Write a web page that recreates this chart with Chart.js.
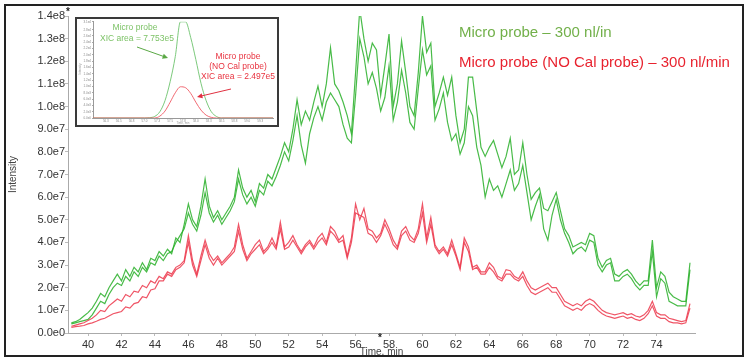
<!DOCTYPE html>
<html>
<head>
<meta charset="utf-8">
<script src="https://cdn.jsdelivr.net/npm/chart.js@4.4.0/dist/chart.umd.min.js"></script>
<style>
  html, body { margin: 0; padding: 0; background: #fff; }
  #wrap { position: relative; width: 750px; height: 362px; }
  #main { position: absolute; left: 0; top: 0; }
  #inset { position: absolute; left: 75px; top: 17px; width: 204px; height: 110px;
           box-sizing: border-box; border: 2px solid #3a3a3a; background: #fff; }
  #insetCanvas { position: absolute; left: 0; top: 0; }
</style>
</head>
<body>
<div id="wrap">
  <canvas id="main" width="750" height="362"></canvas>
  <div id="inset"><canvas id="insetCanvas" width="200" height="106"></canvas></div>
</div>
<script>
// sampling grid of the chromatogram, minutes (every 0.25 min)
const times = [];
for (let t = 39; t <= 76.001; t += 0.25) times.push(+t.toFixed(2));

// intensities in units of 1e7, one row per minute
const microA = [
  0.45, 0.5, 0.6, 0.75,
  0.9, 1.1, 1.4, 1.75,
  1.6, 2.0, 2.3, 2.6,
  2.3, 2.8, 2.5, 2.9,
  2.7, 3.1, 2.8, 3.3,
  3.2, 3.6, 3.4, 3.7,
  3.5, 4.2, 4.0, 4.8,
  5.7, 5.0, 4.7, 5.6,
  6.8, 5.6, 5.1, 5.4,
  5.0, 5.3, 5.6, 6.0,
  7.2, 6.4, 6.0, 6.3,
  5.8, 6.6, 6.4, 7.0,
  6.8, 7.3, 7.8, 8.4,
  8.0, 9.0, 10.3, 9.2,
  9.8, 9.4, 10.2, 10.9,
  10.0, 11.0, 12.6, 11.0,
  10.7, 10.2, 9.6, 8.8,
  11.5, 14.3, 13.0, 12.0,
  12.8, 12.5, 10.5, 11.8,
  13.2, 10.0, 11.0, 12.9,
  11.5, 10.0, 9.6, 11.5,
  14.0, 12.4, 12.8, 10.0,
  10.6, 11.3, 10.5, 11.3,
  9.6, 8.4, 9.0, 11.3,
  11.3, 9.8, 8.2, 7.8,
  8.2, 8.5, 7.9, 7.3,
  7.8, 8.6, 7.0, 7.2,
  8.4, 7.0, 5.9, 6.2,
  6.4, 5.5, 5.4, 5.8,
  6.2, 5.4, 4.6, 4.3,
  3.8, 3.9, 4.0, 3.9,
  4.4, 4.3, 3.3, 2.9,
  3.2, 3.3, 2.6, 2.5,
  2.7, 2.8, 2.6, 2.3,
  2.1, 2.3, 2.3, 4.1,
  2.0, 2.7, 2.5, 1.8,
  1.6, 1.5, 1.4, 1.4,
  3.1
];
const microB = [
  0.4, 0.45, 0.5, 0.55,
  0.6, 0.8, 1.1, 1.4,
  1.3, 1.7, 2.0, 2.2,
  2.1, 2.5, 2.3, 2.7,
  2.5, 2.9, 2.7, 3.1,
  3.0, 3.4, 3.2, 3.5,
  3.6, 4.0, 4.3, 4.6,
  5.3, 4.8, 4.5, 5.2,
  6.2, 5.3, 4.9, 5.2,
  4.8, 5.1, 5.4, 5.8,
  6.8, 6.1, 5.7, 6.0,
  5.6, 6.3, 6.1, 6.7,
  6.5, 6.9, 7.4, 8.0,
  7.6, 8.5, 9.6, 8.3,
  7.5, 8.8, 9.5, 10.0,
  9.4, 10.2, 10.6, 10.3,
  10.0, 9.2, 8.6, 8.4,
  10.5, 13.0, 12.2, 11.0,
  11.5, 10.8, 9.8, 10.4,
  11.8, 9.4, 10.2, 11.6,
  10.6, 9.3, 9.0, 10.8,
  12.5, 11.4, 11.8, 9.4,
  9.9, 10.6, 9.3, 8.5,
  8.8, 7.9, 8.4, 10.0,
  9.6, 8.2, 7.4, 6.0,
  6.8, 6.3, 6.5, 6.0,
  6.6, 7.2, 6.3, 6.6,
  7.4, 6.2, 5.0, 5.6,
  6.1, 4.6, 4.1, 5.2,
  5.9, 5.0, 4.4, 4.0,
  3.5, 3.7, 3.8, 3.6,
  4.1, 4.0, 3.0, 2.7,
  3.0, 3.1, 2.3, 2.3,
  2.5, 2.6, 2.4, 2.1,
  1.9, 2.1, 2.1, 3.6,
  1.6, 2.4, 2.2, 1.4,
  1.3, 1.2, 1.2, 1.2,
  2.8
];
const noCalA = [
  0.3, 0.35, 0.4, 0.45,
  0.55, 0.65, 0.8, 1.0,
  0.95, 1.2, 1.35, 1.5,
  1.4, 1.7, 1.6, 1.85,
  1.8, 2.1, 2.0, 2.3,
  2.2, 2.5, 2.4, 2.7,
  2.6, 2.9, 3.0, 3.2,
  4.3, 3.2, 2.6, 3.4,
  4.1, 3.5, 3.2, 3.4,
  3.1, 3.3, 3.5, 3.8,
  4.8, 3.9, 3.3, 3.6,
  3.9, 4.1, 3.6, 3.8,
  4.2, 3.8, 4.9, 3.8,
  4.0, 4.3, 3.9, 3.6,
  3.9, 4.1, 3.8, 4.2,
  4.4, 4.0, 4.7, 4.5,
  4.1, 4.3, 3.4, 4.2,
  5.7, 5.0, 5.5, 4.6,
  4.5, 4.2, 4.4, 5.0,
  4.6, 4.1, 3.8, 4.5,
  4.7, 4.3, 4.1, 4.6,
  5.7, 4.2, 5.1, 3.9,
  3.6, 3.8, 3.5, 4.1,
  3.5, 2.9, 4.2, 3.8,
  2.9, 3.0, 2.7, 2.7,
  3.1, 2.9, 2.5, 2.4,
  2.8, 2.75, 2.5, 2.4,
  2.7, 2.3, 2.0, 1.9,
  2.0, 2.1, 2.2, 2.0,
  2.0, 1.7, 1.4, 1.3,
  1.2, 1.3, 1.2, 1.4,
  1.5, 1.4, 1.2, 1.0,
  0.9, 0.85, 0.8, 0.85,
  0.9, 0.8, 0.85, 0.75,
  0.7, 0.8, 1.0, 1.4,
  0.9, 0.8, 0.8, 0.65,
  0.6, 0.55, 0.5, 0.55,
  1.3
];
const noCalB = [
  0.25, 0.28, 0.3, 0.33,
  0.4, 0.45, 0.52, 0.6,
  0.65, 0.75, 0.85, 0.9,
  0.95, 1.15, 1.1, 1.3,
  1.35, 1.6, 1.55, 1.9,
  1.95, 2.3, 2.3, 2.6,
  2.5, 2.8, 2.9, 3.1,
  4.0, 3.0, 2.5, 3.2,
  3.9, 3.3, 3.0, 3.3,
  3.0, 3.2, 3.4, 3.6,
  4.5, 3.7, 3.2, 3.5,
  3.7, 3.9, 3.5, 3.7,
  4.0, 3.7, 4.6, 3.7,
  3.8, 4.1, 3.8, 3.5,
  3.8, 4.0, 3.7, 4.0,
  4.2, 3.9, 4.5, 4.3,
  4.0, 4.1, 3.3, 4.0,
  5.3, 5.2, 5.1, 4.4,
  4.3, 4.0, 4.3, 4.8,
  4.4, 3.9, 3.7, 4.3,
  4.5, 4.1, 4.0, 4.4,
  5.3, 4.0, 4.8, 3.8,
  3.5, 3.7, 3.4, 3.9,
  3.4, 2.8, 4.0, 3.6,
  2.8, 2.9, 2.6, 2.6,
  2.9, 2.7, 2.4, 2.3,
  2.6, 2.6, 2.4, 2.3,
  2.5, 2.1, 1.8, 1.7,
  1.8, 1.9, 2.0, 1.8,
  1.8, 1.5, 1.2, 1.1,
  1.0, 1.1, 1.0, 1.2,
  1.3, 1.2, 1.0, 0.85,
  0.75, 0.7, 0.65, 0.7,
  0.75, 0.65, 0.7, 0.6,
  0.55, 0.65, 0.85, 1.2,
  0.75, 0.65, 0.65, 0.5,
  0.45, 0.45, 0.4, 0.45,
  1.1
];

const xTicks = [40, 42, 44, 46, 48, 50, 52, 54, 56, 58, 60, 62, 64, 66, 68, 70, 72, 74];
const legendLabels = ['Micro probe \u2013 300 nl/in', 'Micro probe (NO Cal probe) \u2013 300 nl/min'];

// inset: XIC of one peak (units of 1e3 counts)
const insetTimes = [56.0, 57.0, 57.1, 57.2, 57.3, 57.4, 57.5, 57.6, 57.7, 57.8, 57.9, 58.0, 58.1, 58.2, 58.3, 58.4, 58.5, 59.5];
const insetMicro = [0, 0, 0.1, 0.5, 2.0, 5.5, 11.5, 19.5, 30.5, 30.5, 25.5, 18.5, 11.0, 5.5, 2.0, 0.5, 0, 0];
const insetNoCal = [0, 0, 0, 0, 0.6, 2.2, 5.0, 8.0, 9.9, 9.6, 7.8, 5.0, 2.5, 0.9, 0.2, 0, 0, 0];
const insetXTicks = [56.25, 56.5, 56.75, 57.0, 57.25, 57.5, 57.75, 58.0, 58.25, 58.5, 58.75, 59.0, 59.25];

const FONT = '"Liberation Sans", Arial, sans-serif';
const GREEN = 'rgba(40, 175, 40, 0.85)';
const RED = 'rgba(236, 55, 75, 0.85)';

function pts(vals) {
  return vals.map((v, i) => ({ x: times[i], y: v * 1e7 }));
}
function line(vals, color) {
  return { data: pts(vals), borderColor: color, borderWidth: 1.2, pointRadius: 0, tension: 0, fill: false };
}

const decor = {
  id: 'decor',
  afterDraw(chart) {
    const ctx = chart.ctx;
    ctx.save();
    ctx.strokeStyle = '#222';
    ctx.lineWidth = 2;
    ctx.strokeRect(5, 5, 738, 351);
    ctx.font = '15px ' + FONT;
    ctx.textBaseline = 'middle';
    ctx.textAlign = 'left';
    ctx.fillStyle = '#72b04a';
    ctx.fillText(legendLabels[0], 459, 33);
    ctx.fillStyle = '#e8232f';
    ctx.fillText(legendLabels[1], 459, 63);
    ctx.fillStyle = '#222';
    ctx.font = 'bold 10px ' + FONT;
    ctx.fillText('*', 66, 12);
    ctx.fillText('*', 378, 338);
    ctx.restore();
  }
};

new Chart(document.getElementById('main'), {
  type: 'line',
  data: {
    datasets: [
      line(noCalB, RED),
      line(noCalA, RED),
      line(microB, GREEN),
      line(microA, GREEN)
    ]
  },
  options: {
    responsive: false,
    animation: false,
    layout: { padding: { left: 0, right: 55, top: 16, bottom: 0 } },
    plugins: { legend: { display: false }, tooltip: { enabled: false } },
    scales: {
      x: {
        type: 'linear',
        min: 38.8,
        max: 76.3,
        afterBuildTicks: (s) => { s.ticks = xTicks.map(v => ({ value: v })); },
        afterFit: (s) => { s.height = 29; },
        grid: { drawOnChartArea: false, tickLength: 3, color: '#bbb' },
        border: { color: '#aaa' },
        ticks: { font: { size: 11, family: FONT }, color: '#333', padding: 2, maxRotation: 0 },
        title: { display: true, text: 'Time, min', font: { size: 10, family: FONT }, color: '#444', padding: { top: 0, bottom: 4 } }
      },
      y: {
        min: 0,
        max: 1.4e8,
        afterFit: (s) => { s.width = 68; },
        grid: { drawOnChartArea: false, tickLength: 3, color: '#bbb' },
        border: { color: '#aaa' },
        ticks: {
          stepSize: 1e7,
          font: { size: 11, family: FONT },
          color: '#333',
          padding: 0,
          callback: (v) => v.toExponential(1).replace('e+', 'e')
        },
        title: { display: true, text: 'Intensity', font: { size: 10, family: FONT }, color: '#444', padding: { top: 7, bottom: 0 } }
      }
    }
  },
  plugins: [decor]
});

// inset annotations and arrows
function arrow(ctx, x1, y1, x2, y2, color) {
  const a = Math.atan2(y2 - y1, x2 - x1);
  ctx.strokeStyle = color;
  ctx.fillStyle = color;
  ctx.lineWidth = 1;
  ctx.beginPath();
  ctx.moveTo(x1, y1);
  ctx.lineTo(x2 - 4 * Math.cos(a), y2 - 4 * Math.sin(a));
  ctx.stroke();
  ctx.beginPath();
  ctx.moveTo(x2, y2);
  ctx.lineTo(x2 - 6 * Math.cos(a - 0.45), y2 - 6 * Math.sin(a - 0.45));
  ctx.lineTo(x2 - 6 * Math.cos(a + 0.45), y2 - 6 * Math.sin(a + 0.45));
  ctx.closePath();
  ctx.fill();
}

const insetNotes = {
  id: 'insetNotes',
  afterDraw(chart) {
    const ctx = chart.ctx;
    ctx.save();
    ctx.textAlign = 'center';
    ctx.textBaseline = 'middle';
    ctx.font = '8.5px ' + FONT;
    ctx.fillStyle = '#7cc266';
    ctx.fillText('Micro probe', 58, 9);
    ctx.fillText('XIC area = 7.753e5', 60, 20);
    ctx.fillStyle = '#e8323f';
    ctx.fillText('Micro probe', 161, 38);
    ctx.fillText('(NO Cal probe)', 161, 48);
    ctx.fillText('XIC area = 2.497e5', 161, 58);
    arrow(ctx, 60, 28, 91, 39, '#5aa845');
    arrow(ctx, 154, 70, 120, 78, '#e03040');
    ctx.fillStyle = '#999';
    ctx.font = '3px ' + FONT;
    ctx.fillText('Time, min', 106, 104);
    ctx.translate(3, 50);
    ctx.rotate(-Math.PI / 2);
    ctx.fillText('Intensity', 0, 0);
    ctx.restore();
  }
};

new Chart(document.getElementById('insetCanvas'), {
  type: 'line',
  data: {
    datasets: [
      { data: insetTimes.map((t, i) => ({ x: t, y: insetNoCal[i] })), borderColor: 'rgba(240, 90, 100, 0.9)',
        borderWidth: 1, pointRadius: 0, cubicInterpolationMode: 'monotone' },
      { data: insetTimes.map((t, i) => ({ x: t, y: insetMicro[i] })), borderColor: 'rgba(110, 195, 110, 0.9)',
        borderWidth: 1, pointRadius: 0, cubicInterpolationMode: 'monotone' }
    ]
  },
  options: {
    responsive: false,
    animation: false,
    layout: { padding: { left: 0, right: 4, top: 0, bottom: 0 } },
    plugins: { legend: { display: false }, tooltip: { enabled: false } },
    scales: {
      x: {
        type: 'linear',
        min: 56.0,
        max: 59.5,
        afterBuildTicks: (s) => { s.ticks = insetXTicks.map(v => ({ value: v })); },
        afterFit: (s) => { s.height = 7; },
        grid: { drawOnChartArea: false, tickLength: 1, color: '#aaa' },
        border: { color: '#999' },
        ticks: { font: { size: 3, family: FONT }, color: '#888', padding: 0, maxRotation: 0, autoSkip: false,
                 callback: (v) => v.toFixed(1) }
      },
      y: {
        min: 0,
        max: 30.5,
        afterFit: (s) => { s.width = 16; },
        grid: { drawOnChartArea: false, tickLength: 1, color: '#aaa' },
        border: { color: '#999' },
        ticks: { stepSize: 2, font: { size: 3, family: FONT }, color: '#888', padding: 1, autoSkip: false,
                 callback: (v) => (v * 1e3).toExponential(1).replace('e+', 'e') }
      }
    }
  },
  plugins: [insetNotes]
});
</script>
</body>
</html>
